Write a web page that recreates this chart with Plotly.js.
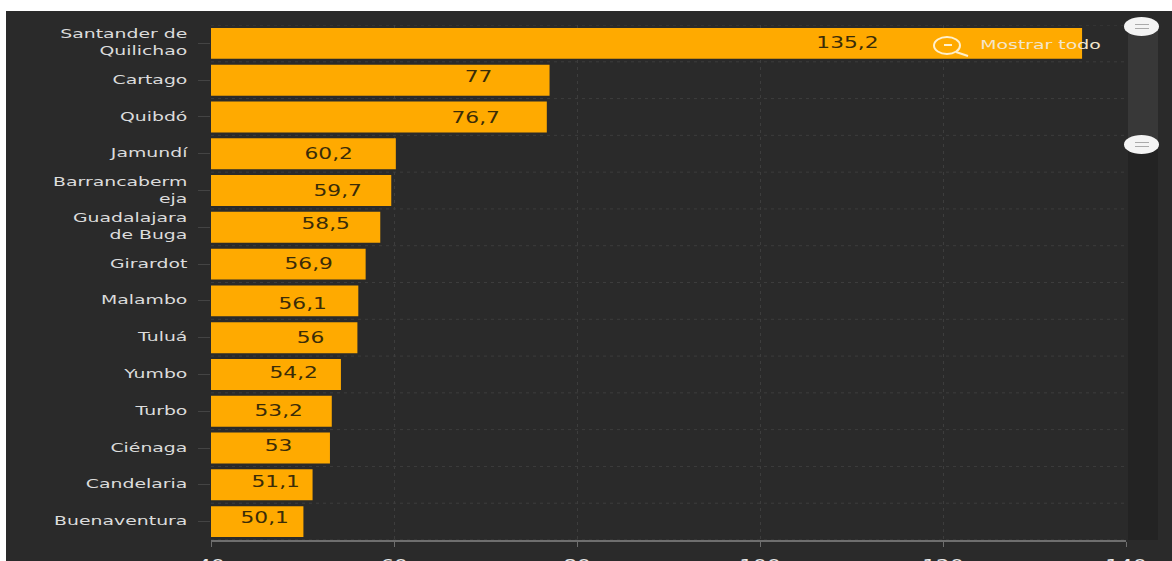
<!DOCTYPE html>
<html><head><meta charset="utf-8">
<script src="https://cdn.plot.ly/plotly-3.0.1.min.js"></script>
<style>html,body{margin:0;padding:0;background:#fff;overflow:hidden;width:1172px;height:561px}
#c{position:absolute;left:6px;top:11px;width:1166px;height:550px}</style>
</head><body><div id="c"></div>
<script>
const categories=["Santander de<br>Quilichao","Cartago","Quibdó","Jamundí","Barrancaberm<br>eja","Guadalajara<br>de Buga","Girardot","Malambo","Tuluá","Yumbo","Turbo","Ciénaga","Candelaria","Buenaventura"];
const values=[135.2,77,76.7,60.2,59.7,58.5,56.9,56.1,56,54.2,53.2,53,51.1,50.1];
const labelAt=[109.6,69.2,68.9,52.8,53.8,52.5,50.7,50.0,50.9,49.0,47.4,47.4,47.1,45.8];
const labelNudge=[0,-3,1,0,0,-3,0,3,0,-1,0,-2,-3,-4];
const xTicks=[40,60,80,100,120,140];

const W=1166,H=550,L=205,R=46,T=14,B=21;
const PW=W-L-R,PH=H-T-B;
const px=v=>(v-L)/PW;
const py=v=>1-(v-T)/PH;
const shapes=[];
for(let i=0;i<=categories.length;i++){
  shapes.push({type:'line',xref:'paper',yref:'y',x0:0,x1:1,y0:i-0.5,y1:i-0.5,layer:'below',line:{color:'#3d3d3d',width:1,dash:'3px,4px'}});
}
shapes.push({type:'rect',xref:'paper',yref:'paper',x0:px(1122),x1:px(1152),y0:py(14),y1:py(529),fillcolor:'#232323',line:{width:0}});
shapes.push({type:'rect',xref:'paper',yref:'paper',x0:px(1122),x1:px(1152),y0:py(14),y1:py(133),fillcolor:'#383838',line:{width:0}});
[15.5,133.5].forEach(c=>{
  shapes.push({type:'circle',xref:'paper',yref:'paper',x0:px(1118),x1:px(1153),y0:py(c+9.5),y1:py(c-9.5),fillcolor:'#f4f4f4',line:{width:0}});
  [-2,2].forEach(d=>shapes.push({type:'line',xref:'paper',yref:'paper',x0:px(1129),x1:px(1143),y0:py(c+d),y1:py(c+d),line:{color:'#aaaaaa',width:1}}));
});
const iconColor='#fff0cc';
shapes.push({type:'circle',xref:'paper',yref:'paper',x0:px(928),x1:px(954),y0:py(43),y1:py(26),fillcolor:'rgba(0,0,0,0)',line:{color:iconColor,width:2}});
shapes.push({type:'line',xref:'paper',yref:'paper',x0:px(950),x1:px(962),y0:py(41),y1:py(45),line:{color:iconColor,width:2}});
shapes.push({type:'line',xref:'paper',yref:'paper',x0:px(938),x1:px(946),y0:py(34),y1:py(34),line:{color:iconColor,width:2}});

const annotations=values.map((v,i)=>({
  x:labelAt[i],y:categories[i],xref:'x',yref:'y',yshift:-labelNudge[i],showarrow:false,xanchor:'center',
  text:String(v).replace('.',','),font:{family:'DejaVu Sans',size:15,color:'#3a2c08'}
}));
annotations.push({xref:'paper',yref:'paper',x:px(991),y:py(34),xanchor:'left',yanchor:'middle',showarrow:false,text:'Mostrar todo',font:{family:'DejaVu Sans',size:13,color:'#f3e6cc'}});

Plotly.newPlot('c',[{
  type:'bar',orientation:'h',y:categories,x:values,
  marker:{color:'#ffaa00',line:{width:0}},hoverinfo:'skip'
}],{
  width:W,height:H,paper_bgcolor:'#2a2a2a',plot_bgcolor:'#2a2a2a',
  margin:{l:L,r:R,t:T,b:B,pad:0},bargap:0.16,showlegend:false,
  xaxis:{range:[40,140],tickvals:xTicks,ticktext:xTicks.map(String),tickfont:{family:'DejaVu Sans',size:15,color:'#e8e8e8'},
    showgrid:true,gridcolor:'#3d3d3d',griddash:'3px,4px',gridwidth:1,zeroline:false,
    showline:true,linecolor:'#6e6e6e',linewidth:2,ticks:'outside',ticklen:5,tickcolor:'#6e6e6e',ticklabelstandoff:6},
  yaxis:{type:'category',categoryorder:'array',categoryarray:categories,autorange:false,range:[categories.length-0.5,-0.5],
    tickfont:{family:'DejaVu Sans',size:13,color:'#dcdcdc'},showgrid:false,zeroline:false,showline:false,
    ticks:'outside',ticklen:12,tickcolor:'#444444',ticklabelstandoff:8},
  shapes,annotations
},{displayModeBar:false,responsive:false}).then(gd=>{
  const s=1.45;
  gd.querySelectorAll('.ytick text, .xtick text, .annotation-text').forEach(t=>{
    const ax=parseFloat(t.getAttribute('x'))||0;
    const old=t.getAttribute('transform')||'';
    const lift=t.closest('.ytick')?' translate(0,-1)':'';
    t.setAttribute('transform',`${old}${lift} translate(${ax*(1-s)},0) scale(${s},1)`);
  });
});
</script></body></html>
